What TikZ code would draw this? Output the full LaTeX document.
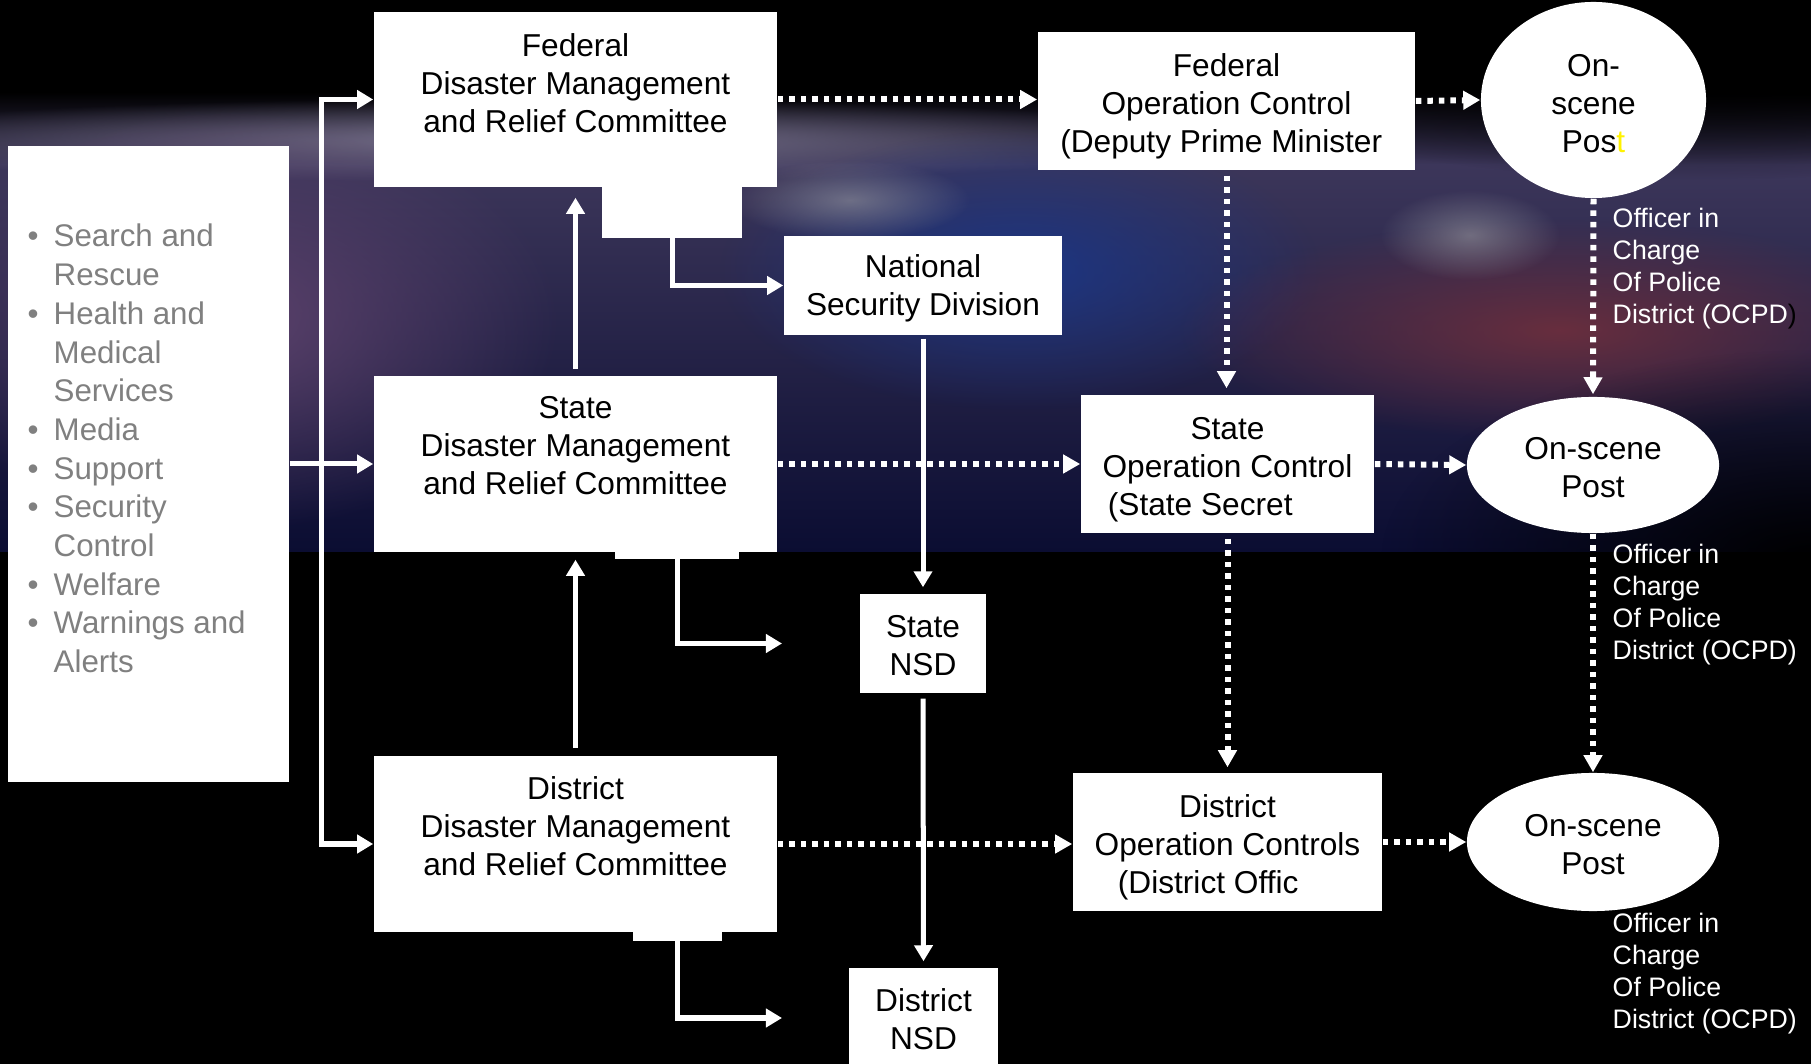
\documentclass[tikz,border=0pt]{standalone}
\usepackage{fontspec}
\setmainfont{Liberation Sans}
\usepackage{tikz}
\usetikzlibrary{arrows.meta,positioning,shapes.geometric,fadings,calc}
\definecolor{bandTop}{RGB}{60,54,90}
\definecolor{bandMid}{RGB}{30,36,88}
\definecolor{bandBot}{RGB}{11,13,50}
\definecolor{glowGray}{RGB}{120,114,140}
\definecolor{cloudPurple}{RGB}{92,66,108}
\definecolor{oceanBlue}{RGB}{28,54,132}
\definecolor{landRed}{RGB}{104,46,62}
\definecolor{hazeGray}{RGB}{150,150,158}
\definecolor{taskGray}{RGB}{128,128,128}
\tikzfading[name=blob, inner color=transparent!0, outer color=transparent!100]
\newcommand{\topgap}[1]{\rule{0pt}{#1}}

\begin{document}
\begin{tikzpicture}[x=0.01cm, y=-0.01cm,
  every node/.style={font=\fontsize{9}{10.8}\selectfont, inner sep=0pt},
  whitebox/.style={fill=white, align=center},
  post/.style={ellipse, fill=white, align=center},
  link/.style={draw=white, line width=0.05cm, -{Triangle[length=0.16cm,width=0.18cm]}},
  dotlink/.style={draw=white, line width=0.06cm, dash pattern=on 0.055cm off 0.06cm,
    -{Triangle[length=0.17cm,width=0.18cm]}},
  ocpd/.style={text=white, align=left, anchor=west, font=\fontsize{7.6}{9.1}\selectfont}]
  \useasboundingbox (0,0) rectangle (1811,1064);
  % Background: night sky and blurred earth
  \fill[black] (0,0) rectangle (1811,1064);
  \begin{scope}
    \clip (0,80) rectangle (1811,552);
    \shade[top color=black, bottom color=bandTop] (0,92) rectangle (1811,165);
    \shade[top color=bandTop, middle color=bandMid, bottom color=bandBot] (0,165) rectangle (1811,552);
    \fill[glowGray, path fading=blob] (520,140) ellipse (720 and 42);
    \fill[cloudPurple, path fading=blob] (230,320) ellipse (330 and 210);
    \fill[oceanBlue, path fading=blob] (1020,270) ellipse (300 and 140);
    \fill[landRed, path fading=blob] (1560,330) ellipse (380 and 110);
    \fill[hazeGray, path fading=blob, opacity=0.6] (1470,235) ellipse (90 and 45);
    \fill[hazeGray, path fading=blob, opacity=0.6] (850,200) ellipse (120 and 40);
    \fill[black, path fading=blob] (1811,560) ellipse (430 and 210);
    \fill[black, path fading=blob] (1700,60) ellipse (500 and 120);
  \end{scope}
  % Task list
  \node[fill=white, minimum width=2.81cm, minimum height=6.36cm] (taskBox) at (148.5,464) {};
  \node[anchor=west, text=taskGray, font=\fontsize{8.9}{11}\selectfont] (tasks) at (27,452) {%
    \begin{tabular}{@{}p{0.26cm}@{}l@{}}
      \textbullet & Search and\\ & Rescue\\
      \textbullet & Health and\\ & Medical\\ & Services\\
      \textbullet & Media\\
      \textbullet & Support\\
      \textbullet & Security\\ & Control\\
      \textbullet & Welfare\\
      \textbullet & Warnings and\\ & Alerts
    \end{tabular}};
  % Committees
  \node[whitebox, minimum width=4.03cm, minimum height=1.75cm] (fedDM) at (575.5,99.5) {Federal\\Disaster Management\\and Relief Committee\\[-0.05cm]\mbox{}};
  \node[whitebox, minimum width=4.03cm, minimum height=1.76cm] (stDM) at (575.5,464) {State\\Disaster Management\\and Relief Committee\\\mbox{}};
  \node[whitebox, minimum width=4.03cm, minimum height=1.76cm] (diDM) at (575.5,844) {District\\Disaster Management\\and Relief Committee\\[-0.02cm]\mbox{}};
  \node[fill=white, minimum width=1.40cm, minimum height=0.51cm, anchor=north] (fedTab) at (672,186) {};
  \node[fill=white, minimum width=1.24cm, minimum height=0.07cm, anchor=north] (stTab) at (677,551) {};
  \node[fill=white, minimum width=0.89cm, minimum height=0.09cm, anchor=north] (diTab) at (677.5,931) {};
  % Security divisions
  \node[whitebox, minimum width=2.78cm, minimum height=0.99cm] (natSec) at (923,285.5) {\topgap{8.4pt}National\\Security Division};
  \node[whitebox, minimum width=1.26cm, minimum height=0.99cm] (stNSD) at (923,643.5) {\topgap{7.75pt}State\\NSD};
  \node[whitebox, minimum width=1.49cm, minimum height=0.99cm] (diNSD) at (923.5,1017.5) {\topgap{7.75pt}District\\NSD};
  % Operation controls
  \node[whitebox, minimum width=3.77cm, minimum height=1.38cm] (fedOC) at (1226.5,101) {\topgap{9.3pt}Federal\\Operation Control\\(Deputy Prime Minister\textcolor{white}{)}};
  \node[whitebox, minimum width=2.93cm, minimum height=1.38cm] (stOC) at (1227.5,464) {\topgap{9.3pt}State\\Operation Control\\(State Secret\textcolor{white}{ary)}};
  \node[whitebox, minimum width=3.09cm, minimum height=1.38cm] (diOC) at (1227.5,842) {\topgap{9.3pt}District\\Operation Controls\\(District Offic\textcolor{white}{er)}};
  % On-scene posts
  \node[post, minimum width=2.25cm, minimum height=1.96cm] (post1) at (1593.5,100) {\topgap{8.4pt}On-\\scene\\Pos\textcolor{yellow}{t}};
  \node[post, minimum width=2.52cm, minimum height=1.36cm] (post2) at (1593,465) {\topgap{7.6pt}On-scene\\Post};
  \node[post, minimum width=2.52cm, minimum height=1.38cm] (post3) at (1593,842) {\topgap{7.75pt}On-scene\\Post};
  % Officer labels
  \node[ocpd] (ocpd1) at (1612,268.5) {Officer in\\Charge\\Of Police\\District (OCPD\textcolor{black}{)}};
  \node[ocpd] (ocpd2) at (1612,605) {Officer in\\Charge\\Of Police\\District (OCPD)};
  \node[ocpd] (ocpd3) at (1612,973.5) {Officer in\\Charge\\Of Police\\District (OCPD)};
  % Solid links
  \coordinate (brTop) at (321,99.5);
  \coordinate (brBot) at (321,844);
  \draw[link, {Triangle[length=0.16cm,width=0.18cm]}-{Triangle[length=0.16cm,width=0.18cm]}]
    (fedDM.west) -- (brTop) -- (brBot) -- (diDM.west);
  \draw[link] (taskBox.east) -- (stDM.west);
  \draw[link, shorten <=0.06cm, shorten >=0.1cm] (stDM.north) -- (fedDM.south);
  \draw[link, shorten <=0.07cm, shorten >=0.07cm] (diDM.north) -- (stDM.south);
  \coordinate (stNSDin) at (782,643.5);
  \coordinate (diNSDin) at (782,1018);
  \draw[link] (fedTab.south) |- (natSec.west);
  \draw[link] (stTab.south) |- (stNSDin);
  \draw[link] (diTab.south) |- (diNSDin);
  \draw[link, shorten <=0.03cm, shorten >=0.06cm] (natSec.south) -- (stNSD.north);
  \draw[link, shorten <=0.05cm, shorten >=0.06cm] (stNSD.south) -- (diNSD.north);
  % Dotted links
  \draw[dotlink] (fedDM.east) -- (fedDM.east -| fedOC.west);
  \draw[dotlink] (stDM.east) -- (stOC.west);
  \draw[dotlink] (diDM.east) -- (diDM.east -| diOC.west);
  \draw[dotlink] (fedOC.east) -- (post1.west);
  \draw[dotlink] (stOC.east) -- (post2.west);
  \draw[dotlink] (diOC.east) -- (post3.west);
  \draw[dotlink, shorten <=0.05cm, shorten >=0.06cm] (fedOC.south) -- (fedOC.south |- stOC.north);
  \draw[dotlink, shorten <=0.05cm, shorten >=0.05cm] (stOC.south) -- (diOC.north);
  \draw[dotlink, shorten >=0.02cm] (post1.south) -- (post2.north);
  \draw[dotlink] (post2.south) -- (post3.north);
\end{tikzpicture}
\end{document}
